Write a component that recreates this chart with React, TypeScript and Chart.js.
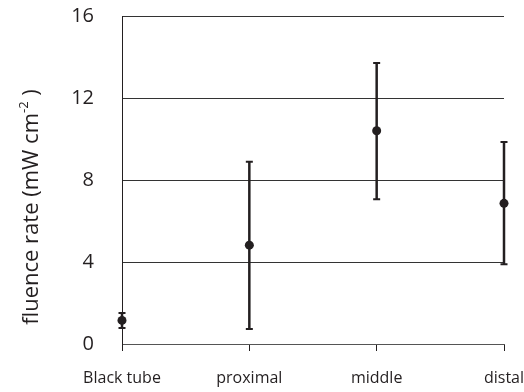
import React, { useEffect, useRef } from "react";
import { Chart, registerables, Plugin } from "chart.js";

Chart.register(...registerables);

// Fluence rate measured at each position, with the low/high ends of each error bar
const categories = ["Black tube", "proximal", "middle", "distal"];
const fluence = [1.15, 4.82, 10.4, 6.86];
const errLow = [0.78, 0.73, 7.06, 3.89];
const errHigh = [1.51, 8.89, 13.71, 9.85];
const yTicks = [0, 4, 8, 12, 16];

const INK = "#231f20";
const FONT = "'Open Sans', 'DejaVu Sans', sans-serif";

// Vertical error bars with short caps, drawn beneath the points
const errorBars: Plugin = {
  id: "errorBars",
  beforeDatasetsDraw(chart) {
    const { ctx } = chart;
    const x = chart.scales.x;
    const y = chart.scales.y;
    ctx.save();
    ctx.strokeStyle = INK;
    ctx.lineCap = "butt";
    categories.forEach((_, i) => {
      const px = x.getPixelForValue(i);
      const top = y.getPixelForValue(errHigh[i]);
      const bot = y.getPixelForValue(errLow[i]);
      ctx.lineWidth = 2.5;
      ctx.beginPath();
      ctx.moveTo(px, top);
      ctx.lineTo(px, bot);
      ctx.stroke();
      ctx.lineWidth = 2;
      ctx.beginPath();
      ctx.moveTo(px - 3.5, top);
      ctx.lineTo(px + 3.5, top);
      ctx.moveTo(px - 3.5, bot);
      ctx.lineTo(px + 3.5, bot);
      ctx.stroke();
    });
    ctx.restore();
  },
};

// Rotated y-axis title with a superscript exponent
const yTitle: Plugin = {
  id: "yTitle",
  afterDraw(chart) {
    const { ctx } = chart;
    const main = "fluence rate (mW cm";
    const sup = "-2";
    const tail = " )";
    const big = `22px ${FONT}`;
    const small = `13px ${FONT}`;
    ctx.save();
    ctx.font = big;
    const w1 = ctx.measureText(main).width;
    const w3 = ctx.measureText(tail).width;
    ctx.font = small;
    const w2 = ctx.measureText(sup).width;
    const total = w1 + w2 + w3;
    const cy = (chart.chartArea.top + chart.chartArea.bottom) / 2 + 27;
    ctx.translate(38, cy);
    ctx.rotate(-Math.PI / 2);
    ctx.fillStyle = INK;
    ctx.textBaseline = "alphabetic";
    ctx.textAlign = "left";
    let xPos = -total / 2;
    ctx.font = big;
    ctx.fillText(main, xPos, 0);
    xPos += w1;
    ctx.font = small;
    ctx.fillText(sup, xPos, -10);
    xPos += w2;
    ctx.font = big;
    ctx.fillText(tail, xPos, 0);
    ctx.restore();
  },
};

export default function App() {
  const canvasRef = useRef<HTMLCanvasElement | null>(null);

  useEffect(() => {
    document.body.style.margin = "0";
    const canvas = canvasRef.current;
    if (!canvas) return;
    const chart = new Chart(canvas, {
      type: "line",
      data: {
        labels: categories,
        datasets: [
          {
            data: fluence,
            showLine: false,
            pointRadius: 4.5,
            pointHoverRadius: 4.5,
            pointBackgroundColor: INK,
            pointBorderWidth: 0,
            clip: false as any,
          },
        ],
      },
      options: {
        responsive: false,
        animation: false,
        devicePixelRatio: 1,
        layout: { padding: { top: 16, right: 20, left: 0, bottom: 0 } },
        plugins: {
          legend: { display: false },
          tooltip: { enabled: false },
        },
        scales: {
          x: {
            type: "category",
            offset: false,
            grid: {
              display: true,
              drawOnChartArea: false,
              drawTicks: true,
              tickLength: 7,
              color: INK,
              lineWidth: 1,
              offset: false,
            },
            border: { display: true, color: "#555", width: 1 },
            ticks: {
              color: INK,
              padding: 18,
              maxRotation: 0,
              autoSkip: false,
              font: { family: FONT, size: 16 },
            },
            afterFit(scale: any) {
              scale.height = 48;
              scale.paddingLeft = 0;
              scale.paddingRight = 0;
            },
          },
          y: {
            min: 0,
            max: 16,
            afterBuildTicks(scale: any) {
              scale.ticks = yTicks.map((v) => ({ value: v }));
            },
            grid: {
              color: "#333",
              lineWidth: 1,
              drawTicks: false,
            },
            border: { display: true, color: INK, width: 1 },
            ticks: {
              color: INK,
              padding: 28,
              font: { family: FONT, size: 20 },
            },
            afterFit(scale: any) {
              scale.width = 122;
              scale.paddingTop = 0;
              scale.paddingBottom = 0;
            },
          },
        },
      },
      plugins: [errorBars, yTitle],
    });
    return () => chart.destroy();
  }, []);

  return (
    <div style={{ width: 524, height: 392 }}>
      <canvas ref={canvasRef} width={524} height={392} style={{ display: "block" }} />
    </div>
  );
}
